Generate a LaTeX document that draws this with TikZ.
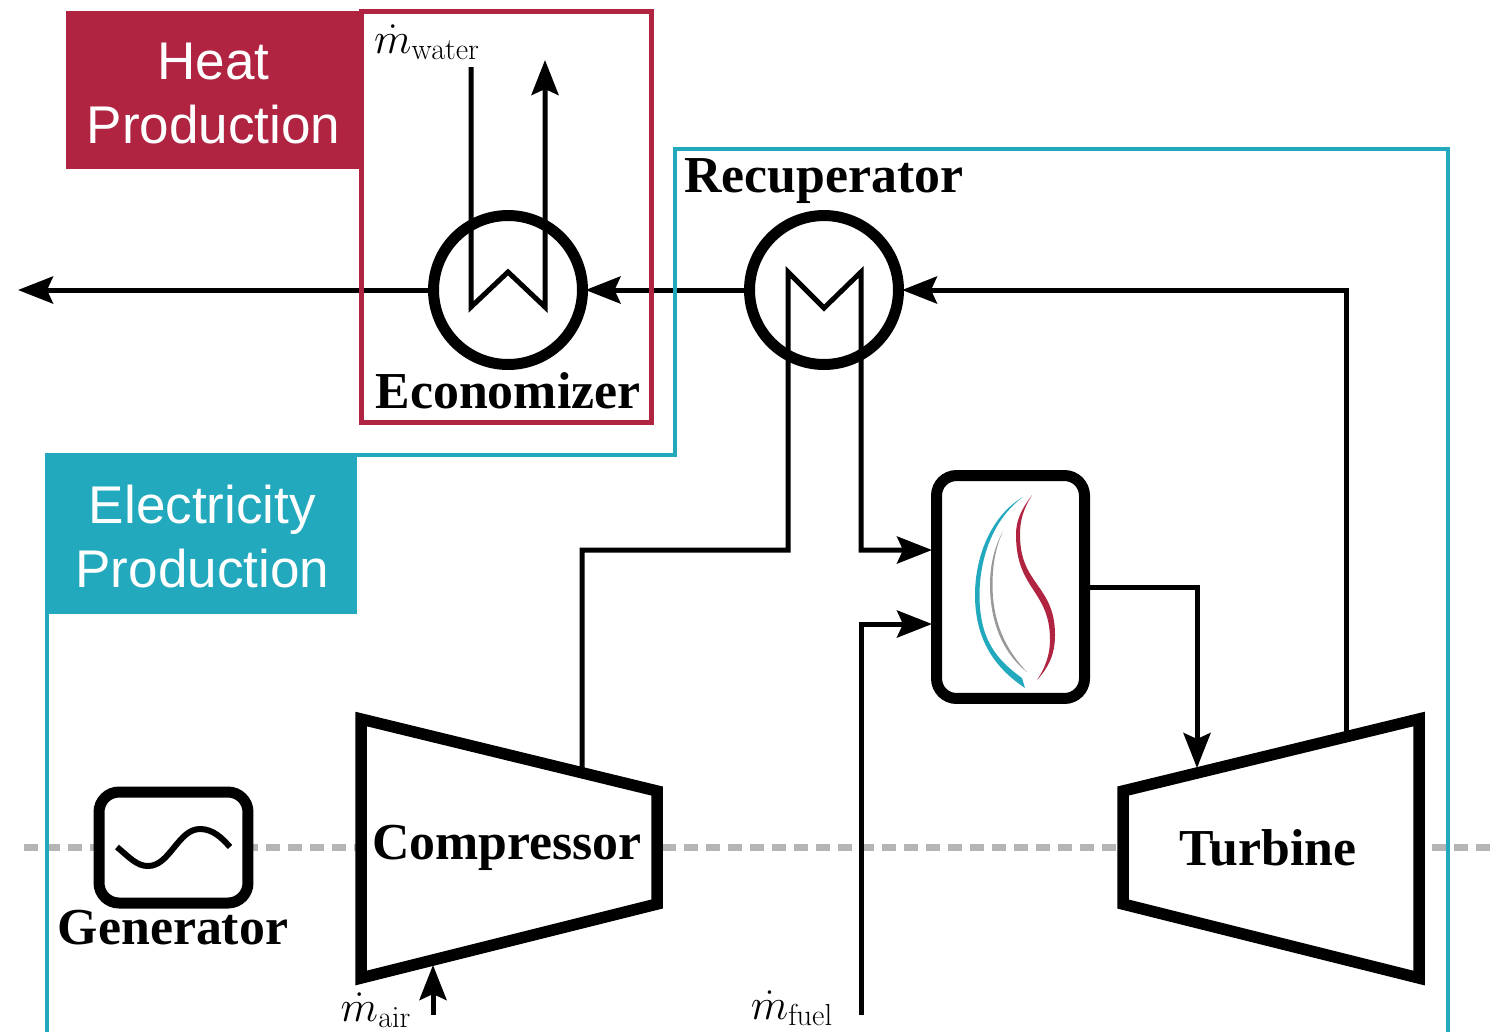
\documentclass[tikz,border=0pt]{standalone}
\usepackage{amsmath}
\usepackage[no-math]{fontspec}
\usepackage{tikz}
\usetikzlibrary{arrows.meta, positioning, calc}

\newfontfamily\sansfont{Liberation Sans}
\newfontfamily\romanfont{Liberation Serif}
\definecolor{heatred}{HTML}{B02442}
\definecolor{elecblue}{HTML}{22A9BD}
\definecolor{shaftgray}{HTML}{B5B5B5}

\tikzset{
    pipe/.style={line width=0.1cm},
    flow/.style={pipe, -{Stealth[length=0.7cm, width=0.54cm, inset=0.12cm]}},
    exchanger/.style={circle, draw, line width=0.22cm, minimum size=2.98cm, inner sep=0pt},
    machine/.style={draw, fill=white, line width=0.23cm, miter limit=10},
    unit/.style={draw, fill=white, line width=0.22cm, rounded corners=0.4cm, inner sep=0pt},
    banner/.style={text=white, align=center, font=\sansfont\fontsize{30.2}{36.6}\selectfont},
    title/.style={font=\romanfont\bfseries\fontsize{29.5}{34}\selectfont, inner sep=0pt},
    flowlabel/.style={font=\fontsize{23.6}{28}\selectfont, inner sep=0pt}
}

\begin{document}
\begin{tikzpicture}[x=0.02cm, y=-0.02cm]
    \useasboundingbox (0,0) rectangle (1506,1032);

    % shaft
    \coordinate (shaftl) at (24,847);
    \coordinate (shaftr) at (1497,847);
    \draw[shaftgray, line width=0.14cm, dash pattern=on 0.28cm off 0.16cm] (shaftl) -- (shaftr);

    % components
    \node[exchanger] (econ) at (508,290) {};
    \node[exchanger] (recu) at (824,290) {};
    \node[unit, minimum width=2.96cm, minimum height=4.46cm] (comb) at (1010.5,587) {};
    \node[unit, minimum width=2.98cm, minimum height=2.22cm] (gen) at (173.5,847.5) {};
    \draw[machine] (361,719) -- (657,791) -- (657,904) -- (361,978) -- cycle;
    \draw[machine] (1123,791) -- (1419,719) -- (1419,978) -- (1123,904) -- cycle;
    \node[title] (comp) at (507,848) {Compressor};
    \node[title] (turb) at (1268,848) {Turbine};

    % ports
    \coordinate (compout) at (582,770);
    \coordinate (compin) at (433,965);
    \coordinate (airin) at (433,1015);
    \coordinate (turbin) at (1197,768);
    \coordinate (turbout) at (1346,735);
    \coordinate (fuelin) at (861,1015);
    \coordinate (combair) at (932,550);
    \coordinate (combfuel) at (932,624);
    \coordinate (exhaust) at (18,290);
    \coordinate (waterin) at (471,67);
    \coordinate (waterout) at (545,60);

    % flows
    \draw[flow] (airin) -- (compin);
    \draw[flow] (compout) |- (788,550) -- (788,272) -- (824,308) -- (861,272) -- (861,550) -- (combair);
    \draw[flow] (fuelin) |- (combfuel);
    \draw[flow] (comb.east) -| (turbin);
    \draw[flow, shorten >=-0.04cm] (turbout) |- (recu.east);
    \draw[flow, shorten >=-0.05cm] (recu.west) -- (econ.east);
    \draw[flow] (econ.west) -- (exhaust);
    \draw[flow] (waterin) -- (471,307) -- (508,272) -- (545,307) -- (waterout);

    % generator wave
    \draw[pipe, line width=0.12cm] (117,847) .. controls (130,858) and (137,866) .. (148,866)
        .. controls (170,866) and (178,829) .. (200,829) .. controls (213,829) and (222,838) .. (230,847);

    % flame
    \fill[elecblue] (1023,497) .. controls (992,515) and (975,555) .. (975,595)
        .. controls (975,640) and (995,668) .. (1025,688) -- (1022,678)
        .. controls (997,660) and (979.5,640) .. (979.5,595) .. controls (979.5,557) and (994,518) .. cycle;
    \fill[black!40] (1003,531) .. controls (994,548) and (990,565) .. (990,585)
        .. controls (990,625) and (1005,655) .. (1027,672)
        .. controls (1008,652) and (992.5,625) .. (992.5,585) .. controls (992.5,565) and (995.5,548) .. cycle;
    \fill[heatred] (1032,495) .. controls (1021,510) and (1016,520) .. (1016,535)
        .. controls (1016,590) and (1050,590) .. (1050,640) .. controls (1050,655) and (1045,668) .. (1037,680)
        .. controls (1048,668) and (1055,655) .. (1055,635) .. controls (1055,585) and (1020,585) .. (1020,535)
        .. controls (1020,520) and (1023,510) .. cycle;

    % regions
    \node[fill=heatred, banner, minimum width=5.9cm, minimum height=3.16cm] (heat) at (213.5,90) {\rule{0pt}{25pt}Heat\\Production};
    \node[draw=heatred, line width=0.1cm, minimum width=5.8cm, minimum height=8.22cm] (heatbox) at (506.5,217) {};
    \draw[elecblue, line width=0.09cm] (47,1032) |- (675,455) |- (1448,149) -- (1448,1032);
    \node[fill=elecblue, banner, minimum width=6.22cm, minimum height=3.22cm] (elec) at (201.5,533.5) {\rule{0pt}{25pt}\hspace{1pt}Electricity\\\hspace{1pt}Production};

    % labels
    \node[title] (econlabel) at (508,391) {Economizer};
    \node[title] (reculabel) at (824,181) {Recuperator};
    \node[title] (genlabel) at (173,928) {Generator};
    \node[flowlabel] (waterlabel) at (427,42) {$\dot{m}_{\mathrm{water}}$};
    \node[flowlabel] (airlabel) at (376,1010) {$\dot{m}_{\mathrm{air}}$};
    \node[flowlabel] (fuellabel) at (792,1008) {$\dot{m}_{\mathrm{fuel}}$};
\end{tikzpicture}
\end{document}
